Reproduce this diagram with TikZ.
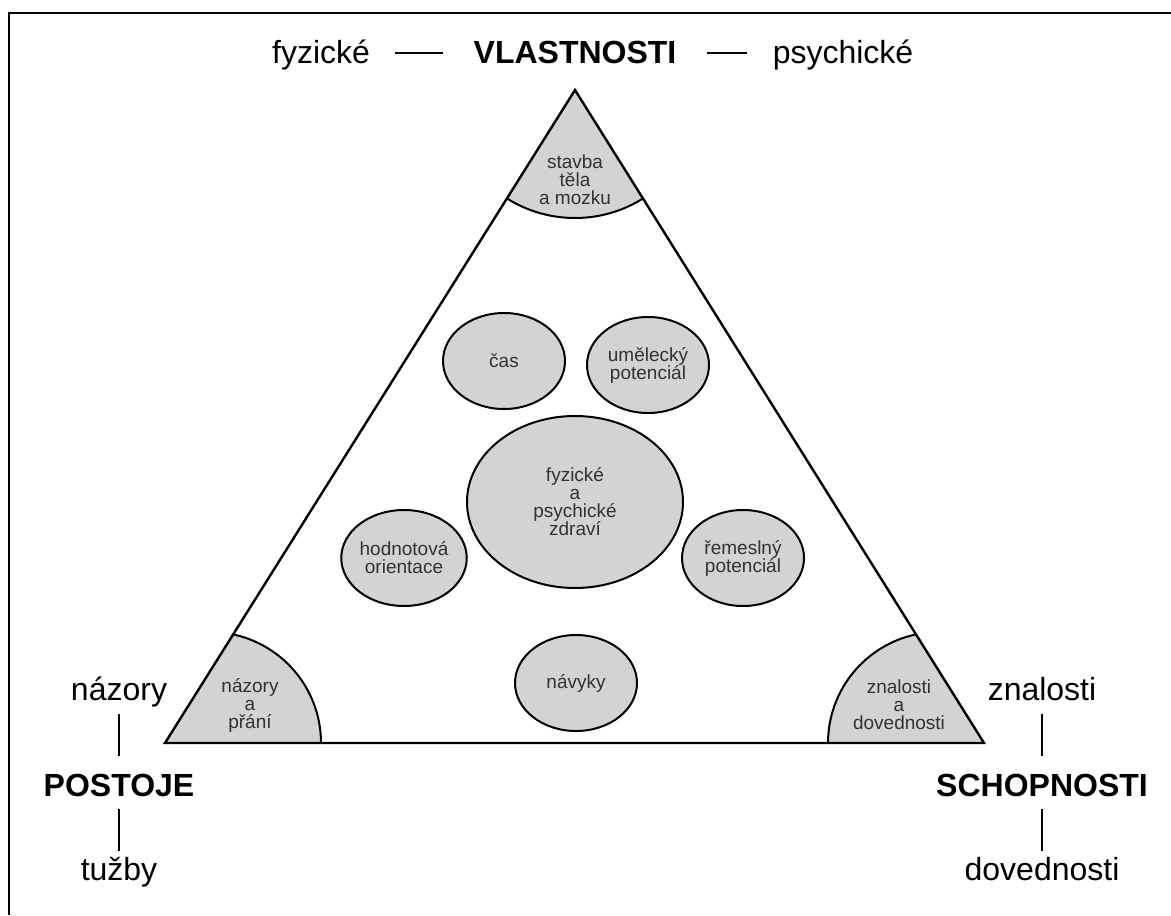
\documentclass[tikz,border=0pt]{standalone}
\usepackage{fontspec}
\setmainfont{Liberation Sans}
\usepackage{tikz}
\usetikzlibrary{shapes.geometric,positioning}
\definecolor{cellgray}{RGB}{211,211,211}
\definecolor{inktext}{RGB}{50,50,50}

\begin{document}
\begin{tikzpicture}[
    x=0.5pt, y=-0.5pt,
    side/.style={font=\fontsize{16}{19}\selectfont, inner sep=0pt, text height=11.5pt, text depth=3.5pt, anchor=base},
    head/.style={side, font=\fontsize{16}{19}\selectfont\bfseries},
    link/.style={line width=1pt},
    trait/.style={ellipse, draw, line width=1pt, fill=cellgray, inner sep=0pt, minimum width=61pt, minimum height=48pt, align=center, text=inktext, font=\fontsize{9.5}{9}\selectfont},
    corner/.style={align=center, text=inktext, font=\fontsize{9.5}{9}\selectfont}
]
\useasboundingbox (0,0) rectangle (1171,915);

% Frame
\draw[line width=1pt] (9,915) -- (9,13) -- (1171,13);

% Triangle
\coordinate (apex) at (575,90);
\coordinate (bl) at (165,743);
\coordinate (br) at (984,743);

% Corner sectors
\begin{scope}
\clip (apex) -- (bl) -- (br) -- cycle;
\filldraw[fill=cellgray, line width=1pt] (apex) circle[radius=128];
\filldraw[fill=cellgray, line width=1pt] (210,743) circle[radius=111];
\filldraw[fill=cellgray, line width=1pt] (939,743) circle[radius=111];
\end{scope}
\draw[line width=1.2pt] (apex) -- (bl) -- (br) -- cycle;

\node[corner] (body) at (575,180) {stavba\\těla\\a mozku};
\node[corner] (views) at (250,705) {názory\\a\\přání};
\node[corner] (skills) at (899,705) {znalosti\\a\\dovednosti};

% Inner ellipses
\node[trait] (time) at (504,361) {čas};
\node[trait] (art) at (648,365) {umělecký\\potenciál};
\node[trait, minimum width=108pt, minimum height=86pt] (health) at (575,502) {fyzické\\a\\psychické\\zdraví};
\node[trait] (values) at (404,558) {hodnotová\\orientace};
\node[trait] (craft) at (743,558) {řemeslný\\potenciál};
\node[trait] (habits) at (576,683) {návyky};

% Top labels
\node[head] (vlast) at (575,64) {VLASTNOSTI};
\node[side] (fyz) at (321,64) {fyzické};
\node[side] (psych) at (843,64) {psychické};
\draw[link, shorten <=12.5pt, shorten >=15pt] ([yshift=1.5pt]fyz.east) -- ([yshift=1.5pt]vlast.west);
\draw[link, shorten <=15pt, shorten >=12.5pt] ([yshift=1.5pt]vlast.east) -- ([yshift=1.5pt]psych.west);

% Left labels
\node[side] (nazory) at (119,700) {názory};
\node[head] (postoje) at (119,796) {POSTOJE};
\node[side] (tuzby) at (119,880) {tužby};
\draw[link, shorten <=3.5pt, shorten >=8.5pt] (nazory) -- (postoje);
\draw[link, shorten <=3pt, shorten >=3pt] (postoje) -- (tuzby);

% Right labels
\node[side] (znal) at (1042,700) {znalosti};
\node[head] (schop) at (1042,796) {SCHOPNOSTI};
\node[side] (doved) at (1042,880) {dovednosti};
\draw[link, shorten <=3.5pt, shorten >=8.5pt] (znal) -- (schop);
\draw[link, shorten <=3pt, shorten >=3pt] (schop) -- (doved);

\end{tikzpicture}
\end{document}
